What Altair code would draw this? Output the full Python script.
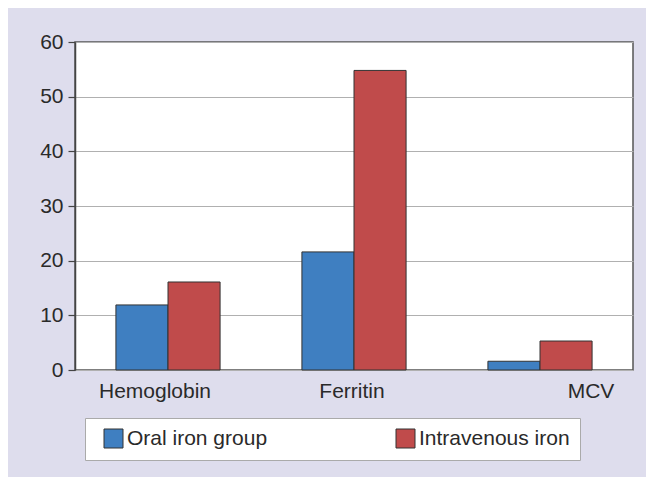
import altair as alt
import pandas as pd

categories = ["Hemoglobin", "Ferritin", "MCV"]
series = ["Oral iron group", "Intravenous iron"]
oral_values = [11.9, 21.6, 1.6]
iv_values = [16.1, 54.8, 5.3]
y_ticks = [0, 10, 20, 30, 40, 50, 60]

rows = []
for c, o, v in zip(categories, oral_values, iv_values):
    rows.append({"cat": c, "group": series[0], "value": o})
    rows.append({"cat": c, "group": series[1], "value": v})
df = pd.DataFrame(rows)

FONT = "Liberation Sans"

bars = alt.Chart(df).mark_bar(stroke="#333333", strokeWidth=1).encode(
    x=alt.X("cat:N", sort=categories, title=None,
            scale=alt.Scale(paddingInner=0.44, paddingOuter=0.22),
            axis=alt.Axis(labelAngle=0, ticks=False, domain=False, labelFontSize=21,
                          labelFont=FONT, labelColor="#2a2a2a", labelPadding=10,
                          labelOffset={"condition": [
                              {"test": "datum.value === 'Hemoglobin'", "value": -13},
                              {"test": "datum.value === 'MCV'", "value": 51}],
                              "value": -2})),
    xOffset=alt.XOffset("group:N", sort=series),
    y=alt.Y("value:Q", title=None, scale=alt.Scale(domain=[0, 60], nice=False),
            axis=alt.Axis(values=y_ticks, grid=True, gridColor="#b0b0b0", gridWidth=1,
                          tickColor="#444444", tickSize=7, tickWidth=1.2,
                          domainColor="#444444", domainWidth=1.5,
                          labelFontSize=21, labelFont=FONT, labelColor="#2a2a2a",
                          labelPadding=5)),
    color=alt.Color("group:N", sort=series,
                    scale=alt.Scale(domain=series, range=["#3f7fc1", "#c04b4b"]),
                    legend=alt.Legend(title=None, orient="none", legendX=10, legendY=376,
                                      direction="horizontal", columns=2,
                                      columnPadding=119, symbolType="square",
                                      symbolSize=361, symbolStrokeColor="#333333",
                                      symbolStrokeWidth=1, symbolOffset=8,
                                      labelFontSize=21, labelFont=FONT,
                                      labelColor="#2a2a2a", labelOffset=3,
                                      padding=10, fillColor="white",
                                      strokeColor="#aaaaaa")),
)

chart = bars.properties(
    width=558, height=328,
    autosize=alt.AutoSizeParams(type="none"),
    padding={"left": 67, "top": 34, "right": 13, "bottom": 107},
    background="#dedded",
).configure_view(stroke="#555555", strokeWidth=1.5, fill="white")

chart.save("out.html", embed_options={"renderer": "svg", "actions": False})
